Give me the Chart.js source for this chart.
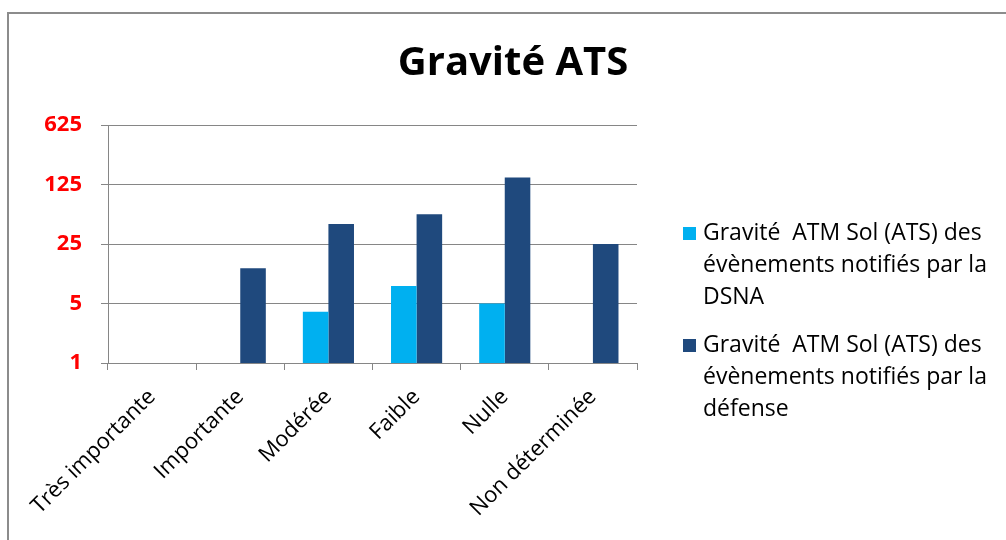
<!DOCTYPE html>
<html>
<head>
<meta charset="utf-8">
<script src="https://cdn.jsdelivr.net/npm/chart.js@4/dist/chart.umd.min.js"></script>
<style>
  body { margin: 0; background: #fff; }
  canvas { display: block; }
</style>
</head>
<body>
<canvas id="gravityChart" width="1006" height="540"></canvas>
<script>
// data
var categories = ["Très importante", "Importante", "Modérée", "Faible", "Nulle", "Non déterminée"];
var dsnaValues = [null, null, 4, 8, 5, null];
var defenseValues = [null, 13, 43, 56, 151, 25];
var yTickValues = [1, 5, 25, 125, 625];
var seriesLabels = [
  "Gravité  ATM Sol (ATS) des évènements notifiés par la DSNA",
  "Gravité  ATM Sol (ATS) des évènements notifiés par la défense"
];
var seriesColors = ["#00B0F0", "#1F497D"];

var gridGray = "#868686";

// frame around the chart, like the office chart border
var framePlugin = {
  id: "frame",
  beforeDraw: function (chart) {
    var ctx = chart.ctx;
    ctx.save();
    ctx.fillStyle = "#fff";
    ctx.fillRect(0, 0, chart.width, chart.height);
    ctx.strokeStyle = "#8c8c8c";
    ctx.lineWidth = 2;
    ctx.strokeRect(8, 13, chart.width + 20, chart.height + 20);
    ctx.restore();
  }
};

// legend on the right with wrapped text
function wrapText(ctx, text, maxWidth) {
  var words = text.split(" ");
  var lines = [];
  var line = "";
  for (var i = 0; i < words.length; i++) {
    var test = line === "" ? words[i] : line + " " + words[i];
    if (ctx.measureText(test).width > maxWidth && line !== "") {
      lines.push(line);
      line = words[i];
    } else {
      line = test;
    }
  }
  lines.push(line);
  return lines;
}

var sideLegend = {
  id: "sideLegend",
  afterDraw: function (chart) {
    var ctx = chart.ctx;
    var x = 683, y = 233, lineH = 32;
    ctx.save();
    ctx.font = "23px 'Open Sans'";
    ctx.textBaseline = "middle";
    chart.data.datasets.forEach(function (ds) {
      ctx.fillStyle = ds.backgroundColor;
      ctx.fillRect(x, y - 6, 13, 13);
      ctx.fillStyle = "#000";
      var lines = wrapText(ctx, ds.label, 300);
      lines.forEach(function (l, j) {
        ctx.fillText(l, x + 20, y + j * lineH);
      });
      y += lines.length * lineH + 16;
    });
    ctx.restore();
  }
};

var ctx = document.getElementById("gravityChart").getContext("2d");
var chart = new Chart(ctx, {
  type: "bar",
  data: {
    labels: categories,
    datasets: [
      {
        label: seriesLabels[0],
        data: dsnaValues,
        backgroundColor: seriesColors[0]
      },
      {
        label: seriesLabels[1],
        data: defenseValues,
        backgroundColor: seriesColors[1]
      }
    ]
  },
  options: {
    responsive: false,
    animation: false,
    categoryPercentage: 0.58,
    barPercentage: 1.0,
    layout: { padding: { left: 20, right: 0, top: 0, bottom: 0 } },
    plugins: {
      legend: { display: false },
      tooltip: { enabled: false },
      title: {
        display: true,
        text: "Gravité ATS",
        color: "#000",
        font: { family: "'Open Sans'", size: 40, weight: "bold" },
        padding: { top: 40, bottom: 37 }
      }
    },
    scales: {
      x: {
        grid: {
          offset: true,
          drawOnChartArea: false,
          drawTicks: true,
          tickLength: 7,
          color: gridGray
        },
        border: { color: gridGray, width: 1 },
        ticks: {
          color: "#000",
          font: { family: "'Open Sans'", size: 22 },
          maxRotation: 45,
          minRotation: 45,
          padding: 14
        },
        afterFit: function (s) { s.height = 177; }
      },
      y: {
        type: "logarithmic",
        min: 1,
        max: 625,
        afterBuildTicks: function (s) {
          s.ticks = yTickValues.map(function (v) { return { value: v }; });
        },
        grid: { color: gridGray, tickLength: 7 },
        border: { color: gridGray, width: 1 },
        ticks: {
          color: "#FF0000",
          font: { family: "'Open Sans'", size: 22, weight: "bold" },
          padding: 19,
          callback: function (v) { return String(v); }
        },
        afterFit: function (s) { s.width = 88; }
      },
      spacer: {
        position: "right",
        display: true,
        grid: { display: false },
        border: { display: false },
        ticks: { display: false },
        afterFit: function (s) { s.width = 369; }
      }
    }
  },
  plugins: [framePlugin, sideLegend]
});
</script>
</body>
</html>
